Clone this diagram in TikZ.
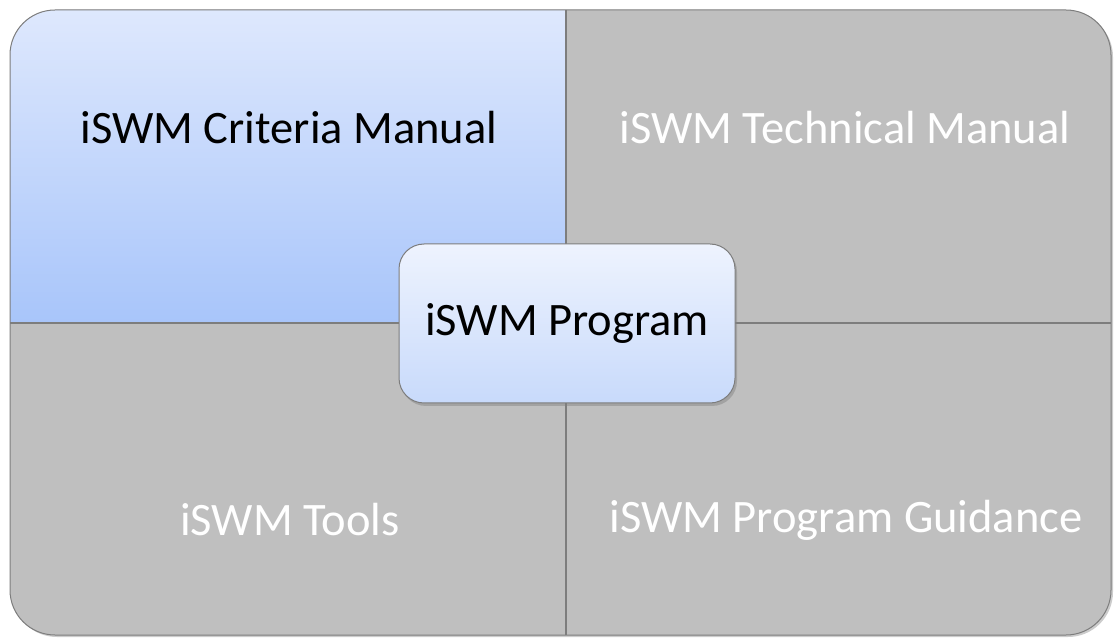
\documentclass[tikz,border=0pt]{standalone}
\usepackage{fontspec}
\setmainfont{Carlito}
\usetikzlibrary{shadows}
\definecolor{quadgray}{RGB}{191,191,191}
\definecolor{linegray}{RGB}{125,125,125}
\definecolor{bluetop}{RGB}{222,232,253}
\definecolor{bluebot}{RGB}{168,197,250}
\definecolor{progtop}{RGB}{238,243,254}
\definecolor{progbot}{RGB}{200,218,251}

\begin{document}
\begin{tikzpicture}[x=1pt, y=1pt]
            \tikzstyle{every node} = [align=center, font=\fontsize{46.5}{56}\selectfont]
            \tikzstyle{quadtext} = [text=white]
            \tikzstyle{progbox} = [draw=linegray, line width=1pt, rounded corners=25pt,
                                   top color=progtop, bottom color=progbot, text=black,
                                   minimum width=336pt, minimum height=159pt,
                                   drop shadow={shadow xshift=2pt, shadow yshift=-3pt, opacity=.45}]
            \useasboundingbox (0,0) rectangle (1114,638);

            % outer panel with its four quarters
            \fill[quadgray, rounded corners=45pt, drop shadow={shadow xshift=2pt, shadow yshift=-2pt, opacity=.4}]
                  (10,3) rectangle (1111,628);
            \begin{scope}
                  \clip[rounded corners=45pt] (10,3) rectangle (1111,628);
                  \shade[top color=bluetop, bottom color=bluebot] (10,315) rectangle (566,628);
            \end{scope}
            \draw[linegray, line width=1pt, rounded corners=45pt] (10,3) rectangle (1111,628);
            \draw[linegray, line width=1.2pt] (566,3) -- (566,628);
            \draw[linegray, line width=1.2pt] (10,315) -- (1111,315);

            \node[text=black](crit) at (289,510){iSWM Criteria Manual};
            \node[quadtext](tech) at (845,510){iSWM Technical Manual};
            \node[quadtext](tools) at (290,118){iSWM Tools};
            \node[quadtext](guide) at (846,118){iSWM Program Guidance};

            \node[progbox](prog) at (567,314.5){iSWM Program};
      \end{tikzpicture}
\end{document}
